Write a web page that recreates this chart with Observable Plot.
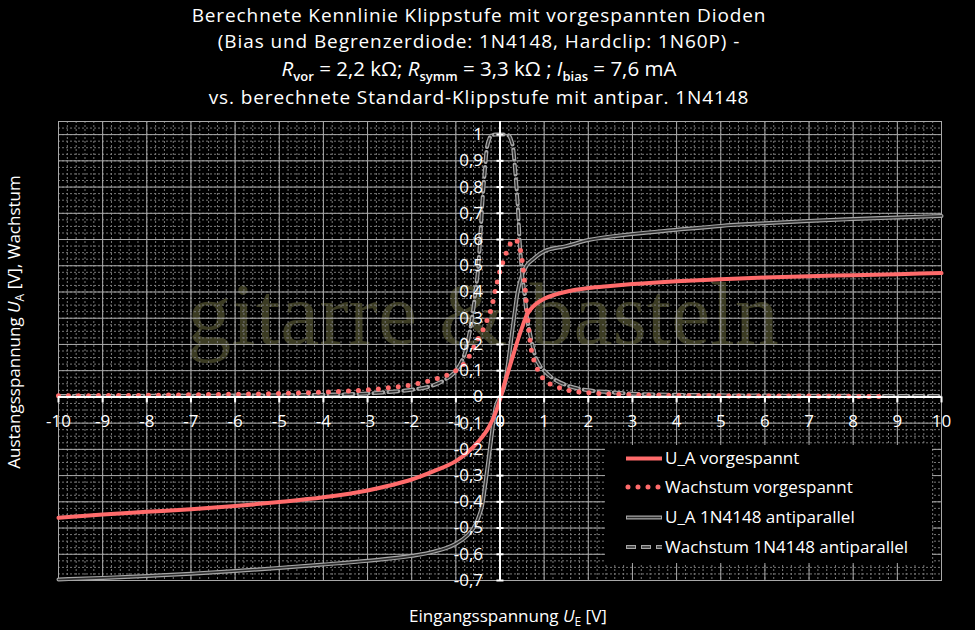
<!DOCTYPE html>
<html><head><meta charset="utf-8">
<script src="https://cdn.jsdelivr.net/npm/d3@7"></script>
<script src="https://cdn.jsdelivr.net/npm/@observablehq/plot@0.6"></script>
<style>
html,body{margin:0;padding:0;background:#000;}
#title{width:958px;height:112px;box-sizing:border-box;padding-top:2px;color:#fff;font-family:"Open Sans",sans-serif;font-size:19px;letter-spacing:0.9px;line-height:26.3px;text-align:center;}
#title .l3{font-size:20.5px;letter-spacing:0;}
#title sub{font-size:13px;font-weight:600;vertical-align:baseline;position:relative;top:5px;}
#chart{width:975px;height:518px;}
</style></head>
<body>
<div id="title">
<div>Berechnete Kennlinie Klippstufe mit vorgespannten Dioden</div>
<div>(Bias und Begrenzerdiode: 1N4148, Hardclip: 1N60P) -</div>
<div class="l3"><i>R</i><sub>vor</sub> = 2,2 kΩ; <i>R</i><sub>symm</sub> = 3,3 kΩ ; <i>I</i><sub>bias</sub> = 7,6 mA</div>
<div>vs. berechnete Standard-Klippstufe mit antipar. 1N4148</div>
</div>
<div id="chart"></div>
<script>
// ---- Data ----
const X_TICKS = [-10,-9,-8,-7,-6,-5,-4,-3,-2,-1,0,1,2,3,4,5,6,7,8,9,10];
const X_TICK_LABELS = ["-10","-9","-8","-7","-6","-5","-4","-3","-2","-1","0","1","2","3","4","5","6","7","8","9","10"];
const Y_TICKS = [-0.7,-0.6,-0.5,-0.4,-0.3,-0.2,-0.1,0,0.1,0.2,0.3,0.4,0.5,0.6,0.7,0.8,0.9,1];
const Y_TICK_LABELS = ["-0,7","-0,6","-0,5","-0,4","-0,3","-0,2","-0,1","0","0,1","0,2","0,3","0,4","0,5","0,6","0,7","0,8","0,9","1"];

const SERIES_NAMES = ["U_A vorgespannt","Wachstum vorgespannt","U_A 1N4148 antiparallel","Wachstum 1N4148 antiparallel"];

// U_A vorgespannt
const uaBiasX = [-10,-9,-8,-7,-6,-5,-4,-3,-2.5,-2,-1.5,-1,-0.75,-0.5,-0.25,-0.1,0,0.1,0.2,0.3,0.4,0.5,0.6,0.7,0.8,1,1.25,1.5,2,2.5,3,4,5,6,7,8,9,10];
const uaBiasY = [-0.461,-0.448,-0.438,-0.428,-0.416,-0.401,-0.383,-0.357,-0.338,-0.315,-0.283,-0.245,-0.214,-0.172,-0.115,-0.06,-0.01,0.05,0.105,0.16,0.215,0.265,0.31,0.335,0.352,0.374,0.39,0.401,0.415,0.423,0.43,0.441,0.449,0.455,0.46,0.464,0.468,0.472];

// Wachstum vorgespannt
const grBiasX = [-10,-9,-8,-7,-6,-5,-4,-3,-2.5,-2,-1.5,-1.25,-1,-0.75,-0.5,-0.4,-0.3,-0.2,-0.1,0,0.1,0.2,0.3,0.35,0.4,0.45,0.5,0.55,0.6,0.65,0.7,0.8,0.9,1,1.25,1.5,2,2.5,3,4,5,6,7,8,8.7];
const grBiasY = [0.004,0.005,0.006,0.008,0.010,0.013,0.018,0.027,0.035,0.046,0.066,0.08,0.10,0.14,0.22,0.25,0.29,0.335,0.41,0.48,0.53,0.573,0.598,0.60,0.59,0.57,0.52,0.45,0.35,0.26,0.19,0.125,0.09,0.065,0.042,0.027,0.016,0.011,0.008,0.005,0.004,0.003,0.003,0.002,0.002];

// U_A 1N4148 antiparallel
const uaStdX = [-10,-9,-8,-7,-6,-5,-4,-3,-2,-1.5,-1,-0.75,-0.6,-0.5,-0.4,-0.3,-0.2,-0.1,0,0.1,0.2,0.3,0.4,0.5,0.6,0.75,1,1.5,2,3,4,5,6,7,8,9,10];
const uaStdY = [-0.696,-0.69,-0.683,-0.674,-0.664,-0.652,-0.639,-0.625,-0.606,-0.59,-0.56,-0.53,-0.50,-0.465,-0.41,-0.29,-0.16,-0.04,0,0.04,0.15,0.28,0.40,0.465,0.50,0.525,0.555,0.575,0.598,0.621,0.637,0.652,0.662,0.671,0.678,0.684,0.69];

// Wachstum 1N4148 antiparallel
const grStdX = [-10,-8,-6,-5,-4,-3,-2.5,-2,-1.5,-1.25,-1,-0.9,-0.8,-0.7,-0.6,-0.55,-0.5,-0.45,-0.4,-0.35,-0.3,-0.25,-0.2,-0.1,0,0.1,0.2,0.25,0.3,0.35,0.4,0.45,0.5,0.55,0.6,0.7,0.8,0.9,1,1.25,1.5,2,2.5,3,4,5,6,8,10];
const grStdY = [0.003,0.004,0.005,0.006,0.008,0.013,0.019,0.027,0.045,0.065,0.10,0.125,0.165,0.235,0.34,0.41,0.48,0.60,0.74,0.85,0.945,0.98,0.996,1.0,1.0,1.0,0.996,0.98,0.945,0.85,0.735,0.58,0.47,0.40,0.32,0.225,0.155,0.12,0.10,0.065,0.045,0.025,0.018,0.012,0.008,0.006,0.005,0.004,0.003];

// ---- Build tables ----
const rows = (xs, ys) => xs.map((x, i) => ({x, y: ys[i]}));
const uaBias = rows(uaBiasX, uaBiasY);
const grBias = rows(grBiasX, grBiasY);
const uaStd = rows(uaStdX, uaStdY);
const grStd = rows(grStdX, grStdY);

const RED = "#ff6b6b", GRAY = "#a6a6a6", DARK = "#303030";
const xMinor = d3.range(-10, 10.0001, 0.2).map(v => +v.toFixed(2));
const yMinor = d3.range(-0.7, 1.0501, 0.025).map(v => +v.toFixed(3));

const plot = Plot.plot({
  width: 975, height: 518,
  marginTop: 9, marginBottom: 50, marginLeft: 58, marginRight: 34,
  x: {domain: [-10, 10], axis: null},
  y: {domain: [-0.7, 1.05], axis: null},
  style: {background: "#000", color: "#fff", fontFamily: "'Open Sans', sans-serif", overflow: "visible"},
  marks: [
    Plot.text(["gitarre & basteln"], {frameAnchor: "middle", dx: -17, dy: -35, fontSize: 88, fontFamily: "'Liberation Serif', serif", fill: "#3c3c23"}),
    Plot.ruleX(xMinor, {stroke: "#777", strokeDasharray: "2,2", strokeWidth: 1}),
    Plot.ruleY(yMinor, {stroke: "#777", strokeDasharray: "2,2", strokeWidth: 1}),
    Plot.ruleX(X_TICKS, {stroke: "#a8a8a8", strokeWidth: 1}),
    Plot.ruleY(Y_TICKS, {stroke: "#a8a8a8", strokeWidth: 1}),
    Plot.frame({stroke: "#a8a8a8"}),
    Plot.line(uaStd, {x: "x", y: "y", stroke: GRAY, strokeWidth: 4, curve: "monotone-x"}),
    Plot.line(uaStd, {x: "x", y: "y", stroke: DARK, strokeWidth: 1.6, curve: "monotone-x"}),
    Plot.line(grStd, {x: "x", y: "y", stroke: GRAY, strokeWidth: 4, strokeDasharray: "10,5", curve: "monotone-x"}),
    Plot.line(grStd, {x: "x", y: "y", stroke: DARK, strokeWidth: 1.6, strokeDasharray: "8,7", strokeDashoffset: -1, curve: "monotone-x"}),
    Plot.line(uaBias, {x: "x", y: "y", stroke: RED, strokeWidth: 4, curve: "monotone-x"}),
    Plot.line(grBias, {x: "x", y: "y", stroke: RED, strokeWidth: 5, strokeDasharray: "0,10", strokeLinecap: "round", curve: "monotone-x"}),
    Plot.ruleY([0], {stroke: "#fff", strokeWidth: 2}),
    Plot.ruleX([0], {stroke: "#fff", strokeWidth: 2}),
    Plot.ruleX(X_TICKS, {y1: 0, y2: -0.023, stroke: "#fff", strokeWidth: 2}),
    Plot.ruleY(Y_TICKS, {x1: -0.07, x2: 0.09, stroke: "#fff", strokeWidth: 2}),
    Plot.text(X_TICKS, {x: d => d, y: 0, text: (d, i) => X_TICK_LABELS[i], dy: 25, fill: "#fff", fontSize: 17}),
    Plot.text(Y_TICKS, {x: 0, y: d => d, text: (d, i) => Y_TICK_LABELS[i], dx: -17, textAnchor: "end", fill: "#fff", fontSize: 17})
  ]
});

const svg = d3.select(plot);
// axis titles
const xt = svg.append("text").attr("x", 508).attr("y", 510).attr("text-anchor", "middle")
  .attr("fill", "#fff").style("font-size", "17px");
xt.append("tspan").text("Eingangsspannung ");
xt.append("tspan").attr("font-style", "italic").text("U");
xt.append("tspan").style("font-size", "12px").attr("dy", 4).text("E");
xt.append("tspan").attr("dy", -4).text(" [V]");

const yt = svg.append("text").attr("transform", "translate(20,210) rotate(-90)").attr("text-anchor", "middle")
  .attr("fill", "#fff").style("font-size", "17px");
yt.append("tspan").text("Austangsspannung ");
yt.append("tspan").attr("font-style", "italic").text("U");
yt.append("tspan").style("font-size", "12px").attr("dy", 4).text("A");
yt.append("tspan").attr("dy", -4).text(" [V], Wachstum");

// legend
const lg = svg.append("g").attr("text-anchor", "start");
lg.append("rect").attr("x", 605).attr("y", 333).attr("width", 327).attr("height", 118).attr("fill", "#000");
const ly = [346.5, 375, 405.5, 435];
const sx1 = 626, sx2 = 662;
lg.append("line").attr("x1", sx1).attr("x2", sx2).attr("y1", ly[0]).attr("y2", ly[0]).attr("stroke", RED).attr("stroke-width", 4);
lg.append("line").attr("x1", sx1 + 2).attr("x2", sx2).attr("y1", ly[1]).attr("y2", ly[1]).attr("stroke", RED).attr("stroke-width", 5)
  .attr("stroke-dasharray", "0,10").attr("stroke-linecap", "round");
lg.append("line").attr("x1", sx1).attr("x2", sx2).attr("y1", ly[2]).attr("y2", ly[2]).attr("stroke", GRAY).attr("stroke-width", 4);
lg.append("line").attr("x1", sx1 + 1).attr("x2", sx2 - 1).attr("y1", ly[2]).attr("y2", ly[2]).attr("stroke", DARK).attr("stroke-width", 1.6);
lg.append("line").attr("x1", sx1).attr("x2", sx2).attr("y1", ly[3]).attr("y2", ly[3]).attr("stroke", GRAY).attr("stroke-width", 4).attr("stroke-dasharray", "10,5");
lg.append("line").attr("x1", sx1).attr("x2", sx2).attr("y1", ly[3]).attr("y2", ly[3]).attr("stroke", DARK).attr("stroke-width", 1.6).attr("stroke-dasharray", "8,7").attr("stroke-dashoffset", -1);
SERIES_NAMES.forEach((name, i) => {
  lg.append("text").attr("x", 665).attr("y", ly[i]).attr("dy", "0.35em").attr("text-anchor", "start")
    .attr("fill", "#fff").style("font-size", "17px").text(name);
});

document.getElementById("chart").appendChild(plot);
</script>
</body></html>
